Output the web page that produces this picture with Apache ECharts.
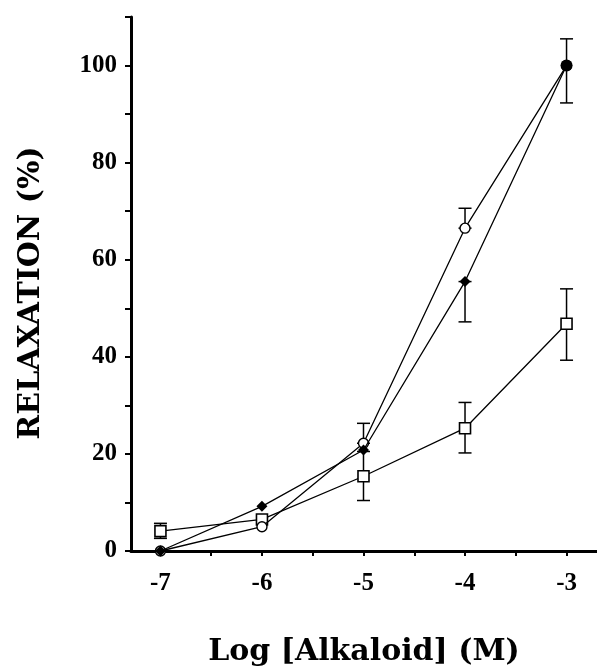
<!DOCTYPE html>
<html>
<head>
<meta charset="utf-8">
<script src="https://cdn.jsdelivr.net/npm/echarts@6/dist/echarts.min.js"></script>
<style>html,body{margin:0;padding:0;background:#fff;}#c{width:597px;height:672px;}</style>
</head>
<body>
<div id="c"></div>
<script>
// Data
const xValues = [-7, -6, -5, -4, -3];
const circleVals = [0, 5.0, 22.2, 66.5, 100];
const diamondVals = [0, 9.2, 20.8, 55.5, 100];
const squareVals = [4.1, 6.5, 15.4, 25.3, 46.8];
// error bars (x, low, high)
const errX    = [-3,    -4,   -5,   -4,   -7,  -5,   -4,   -3];
const errLow  = [92.3,  66.5, 22.2, 47.2, 2.6, 10.4, 20.2, 39.3];
const errHigh = [105.5, 70.6, 26.3, 55.5, 5.7, 20.5, 30.6, 54.0];
const xTickLabels = [-7, -6, -5, -4, -3];
const xTicks = [-7, -6.5, -6, -5.5, -5, -4.5, -4, -3.5, -3];
const yTickLabels = [0, 20, 40, 60, 80, 100];

const tickFont = '"Liberation Serif", "DejaVu Serif", serif';
const titleFont = '"DejaVu Serif", "Liberation Serif", serif';
const pairs = v => xValues.map((x, i) => [x, v[i]]);

const chart = echarts.init(document.getElementById('c'));
const diamondData = pairs(diamondVals).map((p, i) =>
  i === 4 ? { value: p, symbol: 'circle', symbolSize: 12 } : { value: p });

chart.setOption({
  animation: false,
  backgroundColor: '#fff',
  grid: { left: 131, right: 0, top: 17, bottom: 120 },
  graphic: [{
    type: 'text', x: 31, y: 293, rotation: Math.PI / 2,
    style: { text: 'RELAXATION (%)', font: 'bold 30px ' + titleFont, fill: '#000',
             textAlign: 'center', textVerticalAlign: 'middle' }
  }],
  xAxis: {
    type: 'value', min: -7.29, max: -2.7,
    name: 'Log [Alkaloid] (M)', nameLocation: 'middle', nameGap: 86,
    nameTextStyle: { fontFamily: titleFont, fontWeight: 'bold', fontSize: 30, color: '#000' },
    axisLine: { onZero: false, lineStyle: { color: '#000', width: 3 } },
    axisTick: { show: true, customValues: xTicks, length: 5, lineStyle: { color: '#000', width: 2 } },
    axisLabel: { customValues: xTickLabels, fontFamily: tickFont, fontWeight: 'bold', fontSize: 25, color: '#000', margin: 20 },
    splitLine: { show: false }
  },
  yAxis: {
    type: 'value', min: 0, max: 110, interval: 10,
    axisLine: { show: true, lineStyle: { color: '#000', width: 3 } },
    axisTick: { show: true, length: 6, lineStyle: { color: '#000', width: 2 } },
    axisLabel: { customValues: yTickLabels, fontFamily: tickFont, fontWeight: 'bold', fontSize: 25, color: '#000', margin: 14 },
    splitLine: { show: false }
  },
  series: [
    {
      type: 'custom', z: 1,
      data: errX.map((x, i) => [x, errLow[i], errHigh[i]]),
      renderItem: function (params, api) {
        const lo = api.coord([api.value(0), api.value(1)]);
        const hi = api.coord([api.value(0), api.value(2)]);
        const w = 6.5;
        const st = { stroke: '#000', lineWidth: 1.5 };
        return { type: 'group', children: [
          { type: 'line', shape: { x1: lo[0], y1: lo[1], x2: hi[0], y2: hi[1] }, style: st },
          { type: 'line', shape: { x1: hi[0] - w, y1: hi[1], x2: hi[0] + w, y2: hi[1] }, style: st },
          { type: 'line', shape: { x1: lo[0] - w, y1: lo[1], x2: lo[0] + w, y2: lo[1] }, style: st }
        ]};
      }
    },
    {
      type: 'line', z: 3, data: pairs(squareVals),
      symbol: 'rect', symbolSize: 11,
      lineStyle: { color: '#000', width: 1.3 },
      itemStyle: { color: '#fff', borderColor: '#000', borderWidth: 1.6 }
    },
    {
      type: 'line', z: 4, data: pairs(circleVals),
      symbol: 'circle', symbolSize: 10,
      lineStyle: { color: '#000', width: 1.3 },
      itemStyle: { color: '#fff', borderColor: '#000', borderWidth: 1.4 }
    },
    {
      type: 'line', z: 5, data: diamondData,
      symbol: 'diamond', symbolSize: 11,
      lineStyle: { color: '#000', width: 1.3 },
      itemStyle: { color: '#000', borderColor: '#000', borderWidth: 0 }
    }
  ]
});
</script>
</body>
</html>
